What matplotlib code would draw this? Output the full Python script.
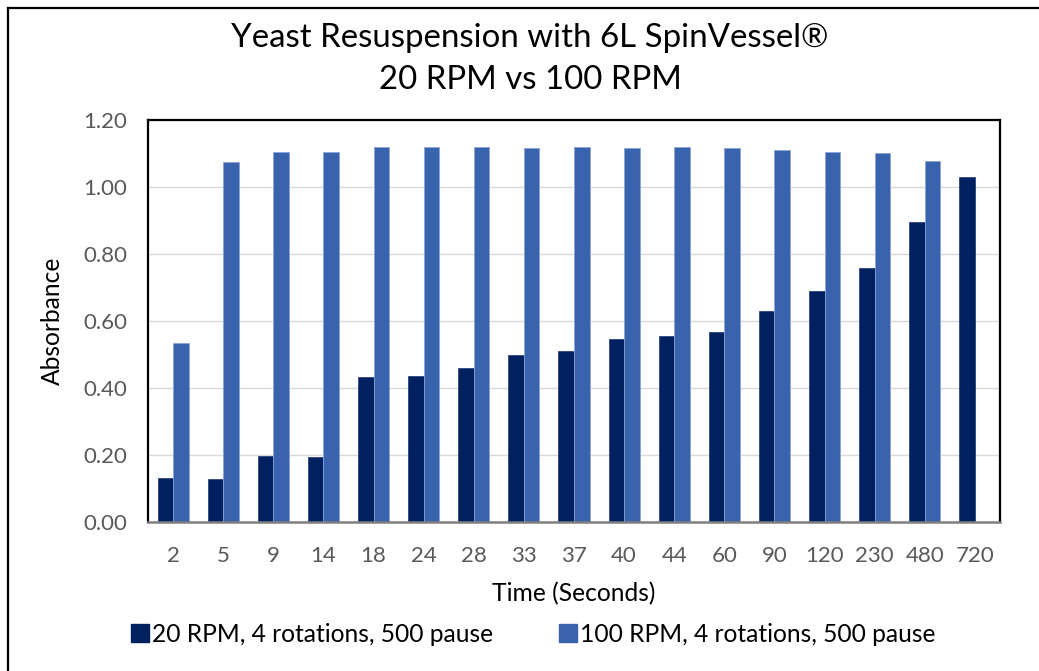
import matplotlib
matplotlib.use("Agg")
import matplotlib.pyplot as plt
from matplotlib.lines import Line2D
from matplotlib.patches import Patch
import numpy as np

plt.rcParams['font.family'] = ['Lato', 'DejaVu Sans']

categories = ["2", "5", "9", "14", "18", "24", "28", "33", "37", "40", "44",
              "60", "90", "120", "230", "480", "720"]
rpm20 = [0.130, 0.128, 0.197, 0.193, 0.433, 0.436, 0.461, 0.500, 0.509,
         0.547, 0.555, 0.568, 0.630, 0.690, 0.757, 0.896, 1.031]
rpm100 = [0.533, 1.076, 1.103, 1.103, 1.118, 1.118, 1.118, 1.117, 1.118,
          1.117, 1.118, 1.117, 1.110, 1.104, 1.101, 1.079, np.nan]
series_names = ["20 RPM, 4 rotations, 500 pause", "100 RPM, 4 rotations, 500 pause"]
title_text = "Yeast Resuspension with 6L SpinVessel®\n20 RPM vs 100 RPM"

W, H = 1039, 671
fig = plt.figure(figsize=(W / 100, H / 100), dpi=100)
ax = fig.add_axes([148 / W, 1 - 522 / H, (1000 - 148) / W, (522 - 120) / H])

dark = "#002060"
light = "#3A63AD"
x = np.arange(len(categories))
w = 0.31
ax.bar(x - w / 2, rpm20, width=w, color=dark, edgecolor="#1a3570", linewidth=0.5, zorder=3)
ax.bar(x + w / 2, rpm100, width=w, color=light, edgecolor="#8aa6d8", linewidth=0.6, zorder=3)

ax.set_xlim(-0.5, len(categories) - 0.5)
ax.set_ylim(0, 1.2)
ax.set_yticks(np.arange(0, 1.21, 0.2))
ax.set_yticklabels([f"{v:.2f}" for v in np.arange(0, 1.21, 0.2)])
ax.set_xticks(x)
ax.set_xticklabels(categories)
ax.tick_params(axis="both", length=0, labelsize=16, labelcolor="#595959")
ax.tick_params(axis="x", pad=17)
ax.tick_params(axis="y", pad=15)
ax.yaxis.grid(True, color="#d9d9d9", linewidth=1.0, zorder=0)
ax.set_axisbelow(True)

for s in ["top", "right", "left"]:
    ax.spines[s].set_color("black")
    ax.spines[s].set_linewidth(1.6)
ax.spines["bottom"].set_color("#808080")
ax.spines["bottom"].set_linewidth(1.8)
ax.spines["bottom"].set_zorder(4)

ax.set_xlabel("Time (Seconds)", fontsize=17.7, color="black", labelpad=12)
ax.set_ylabel("Absorbance", fontsize=17.7, color="black", labelpad=14)

fig.text(530 / W, 1 - 59 / H, title_text, ha="center", va="center",
         fontsize=23.8, color="black", linespacing=1.5)

handles = [Patch(facecolor=dark, edgecolor=dark), Patch(facecolor=light, edgecolor=light)]
fig.legend(handles, series_names, loc="center", bbox_to_anchor=(533 / W, 1 - 634 / H),
           ncol=2, frameon=False, fontsize=17.7, handlelength=0.75, handleheight=0.75,
           handletextpad=0.1, columnspacing=2.7)

# outer chart border (left and top visible)
fig.add_artist(Line2D([8 / W, 8 / W], [0, 1 - 8 / H], transform=fig.transFigure,
                      color="black", linewidth=1.6))
fig.add_artist(Line2D([8 / W, 1], [1 - 8 / H, 1 - 8 / H], transform=fig.transFigure,
                      color="black", linewidth=1.6))

fig.savefig("out.png", dpi=100)
